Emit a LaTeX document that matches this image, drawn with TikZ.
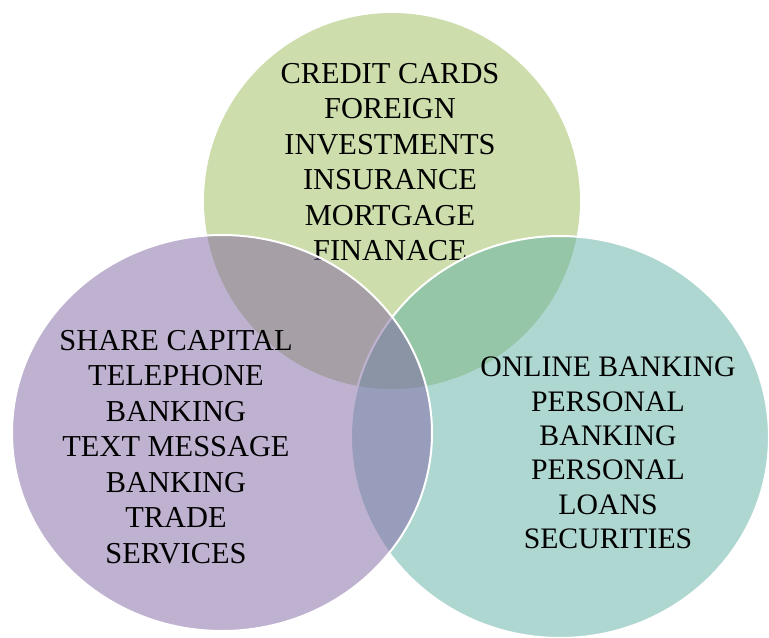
\documentclass[tikz,border=0pt]{standalone}
\usepackage{fontspec}
\setmainfont{Liberation Serif}
\definecolor{vgreen}{RGB}{155,187,89}
\definecolor{vpurple}{RGB}{128,100,162}
\definecolor{vteal}{RGB}{95,175,165}

\begin{document}
\begin{tikzpicture}[x=0.75pt,y=-0.75pt,
    blob/.style={fill opacity=0.5, draw=white, line width=1.5pt},
    venntext/.style={align=center, inner sep=0pt, text=black,
      font=\fontsize{22.8}{26.6}\selectfont}]
  \useasboundingbox (0,0) rectangle (769,637);

  % top set
  \fill[vgreen, fill opacity=0.5] (392,201) circle [radius=188];
  \node[venntext] (credit) at (390,162)
    {CREDIT CARDS\\FOREIGN\\INVESTMENTS\\INSURANCE\\MORTGAGE\\FINANACE};

  % right set
  \draw[blob, fill=vteal] (560,437) ellipse [x radius=209, y radius=201];
  \node[venntext, font=\fontsize{22.3}{25.8}\selectfont] (online) at (608,453)
    {ONLINE BANKING\\PERSONAL\\BANKING\\PERSONAL\\LOANS\\SECURITIES};

  % left set
  \draw[blob, fill=vpurple] (222,433) ellipse [x radius=210, y radius=198];
  \node[venntext] (share) at (176,447)
    {SHARE CAPITAL\\TELEPHONE\\BANKING\\TEXT MESSAGE\\BANKING\\TRADE\\SERVICES};
\end{tikzpicture}
\end{document}
